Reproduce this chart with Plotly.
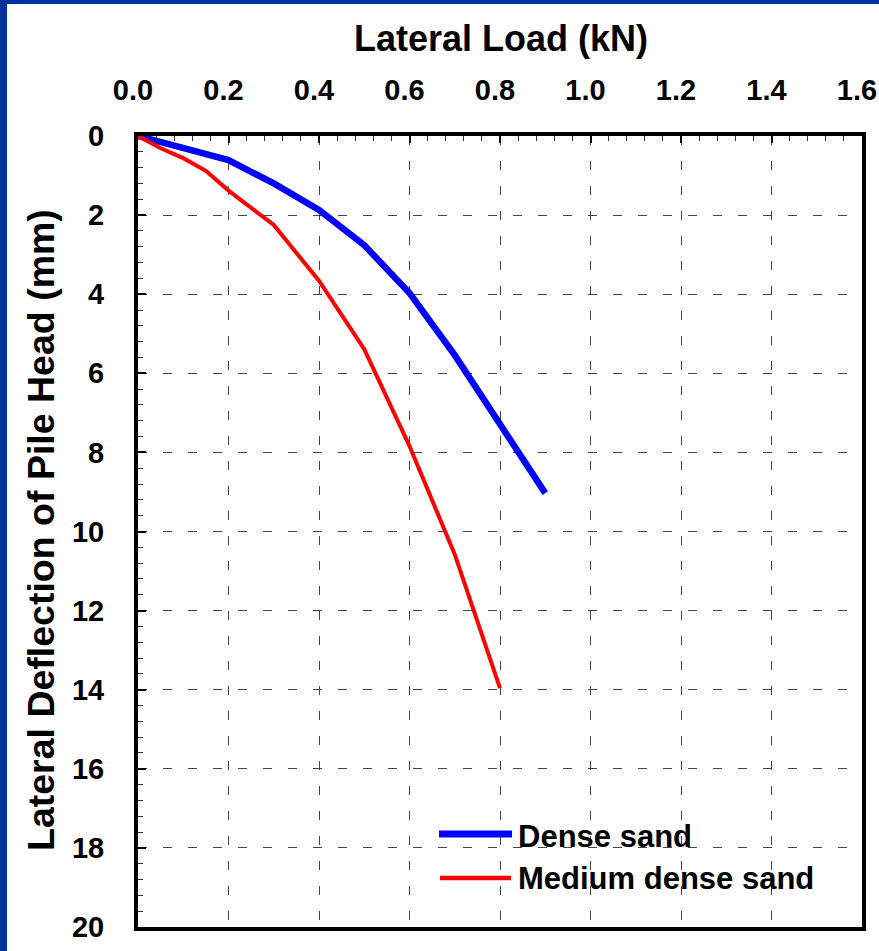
import plotly.graph_objects as go

# ---- data ----
series_names = ["Dense sand", "Medium dense sand"]
load_dense = [0.0, 0.1, 0.2, 0.3, 0.4, 0.5, 0.6, 0.7, 0.8, 0.9]
defl_dense = [0.0, 0.29, 0.61, 1.2, 1.87, 2.76, 3.97, 5.54, 7.25, 9.03]
load_medium = [0.0, 0.05, 0.1, 0.15, 0.2, 0.3, 0.4, 0.5, 0.6, 0.7, 0.8]
defl_medium = [0.0, 0.31, 0.56, 0.88, 1.38, 2.25, 3.66, 5.39, 7.84, 10.58, 13.96]
x_ticks = [0.0, 0.2, 0.4, 0.6, 0.8, 1.0, 1.2, 1.4, 1.6]
y_ticks = [0, 2, 4, 6, 8, 10, 12, 14, 16, 18, 20]
x_title = "Lateral Load (kN)"
y_title = "Lateral Deflection of Pile Head (mm)"

# ---- layout geometry ----
W, H = 879, 951
ML, MR, MT, MB = 138, 17, 136, 24
PW, PH = W - ML - MR, H - MT - MB


def px_x(px):
    return (px - ML) / PW


def px_y(py):
    return (H - MB - py) / PH


FONT = "Liberation Sans, Arial, sans-serif"
BORDER = "#003399"
colors = ["#0000FF", "#FF0000"]
widths = [6.5, 4]

fig = go.Figure()
fig.add_trace(go.Scatter(x=load_dense, y=defl_dense, mode="lines", name=series_names[0],
                         line=dict(color=colors[0], width=widths[0]), showlegend=False))
fig.add_trace(go.Scatter(x=load_medium, y=defl_medium, mode="lines", name=series_names[1],
                         line=dict(color=colors[1], width=widths[1]), showlegend=False))

grid = dict(showgrid=True, gridcolor="#444444", gridwidth=1, griddash="9px,16px")

fig.update_xaxes(side="top", range=[x_ticks[0], x_ticks[-1]], tickvals=x_ticks,
                 ticktext=[f"{v:.1f}" for v in x_ticks],
                 ticks="inside", ticklen=7, tickwidth=1.5, tickcolor="black",
                 showline=True, linewidth=4, linecolor="black", mirror=True,
                 zeroline=False, automargin=False, ticklabeloverflow="allow",
                 tickfont=dict(family=FONT, size=29, color="black", weight="bold"),
                 ticklabelstandoff=20, ticklabelshift=-5,
                 minor=dict(dtick=0.04, ticks="inside", ticklen=5, tickcolor="#333333",
                            tickwidth=1, showgrid=False),
                 **grid)
fig.update_yaxes(range=[y_ticks[-1], y_ticks[0]], tickvals=y_ticks,
                 ticks="inside", ticklen=8, tickwidth=1.5, tickcolor="black",
                 showline=True, linewidth=4, linecolor="black", mirror=True,
                 zeroline=False, automargin=False, ticklabeloverflow="allow",
                 tickfont=dict(family=FONT, size=29, color="black", weight="bold"),
                 ticklabelstandoff=24,
                 minor=dict(dtick=0.4, ticks="inside", ticklen=5, tickcolor="#333333",
                            tickwidth=1, showgrid=False),
                 **grid)

shapes = [
    dict(type="rect", xref="paper", yref="paper", x0=px_x(0), x1=px_x(7),
         y0=px_y(H), y1=px_y(0), fillcolor=BORDER, line=dict(width=0), layer="above"),
    dict(type="rect", xref="paper", yref="paper", x0=px_x(0), x1=px_x(W),
         y0=px_y(4), y1=px_y(0), fillcolor=BORDER, line=dict(width=0), layer="above"),
    # legend samples
    dict(type="line", xref="paper", yref="paper", x0=px_x(439), x1=px_x(512),
         y0=px_y(834), y1=px_y(834), line=dict(color=colors[0], width=7)),
    dict(type="line", xref="paper", yref="paper", x0=px_x(440), x1=px_x(511),
         y0=px_y(878), y1=px_y(878), line=dict(color=colors[1], width=4.5)),
]

annotations = [
    dict(text=x_title, xref="paper", yref="paper", x=px_x(501), y=px_y(38),
         xanchor="center", yanchor="middle", showarrow=False,
         font=dict(family=FONT, size=36, color="black", weight="bold")),
    dict(text=y_title, xref="paper", yref="paper", x=px_x(41), y=px_y(530),
         xanchor="center", yanchor="middle", showarrow=False, textangle=-90,
         font=dict(family=FONT, size=37.5, color="black", weight="bold")),
    dict(text=series_names[0], xref="paper", yref="paper", x=px_x(516), y=px_y(836),
         xanchor="left", yanchor="middle", showarrow=False,
         font=dict(family=FONT, size=31, color="black", weight="bold")),
    dict(text=series_names[1], xref="paper", yref="paper", x=px_x(516), y=px_y(878),
         xanchor="left", yanchor="middle", showarrow=False,
         font=dict(family=FONT, size=31, color="black", weight="bold")),
]

fig.update_layout(width=W, height=H, margin=dict(l=ML, r=MR, t=MT, b=MB, pad=0),
                  paper_bgcolor="white", plot_bgcolor="white",
                  shapes=shapes, annotations=annotations, showlegend=False)

fig.write_html("out.html",
               config={"displayModeBar": False},
               post_script="document.body.style.margin='0';"
                           "document.body.style.overflow='hidden';")
